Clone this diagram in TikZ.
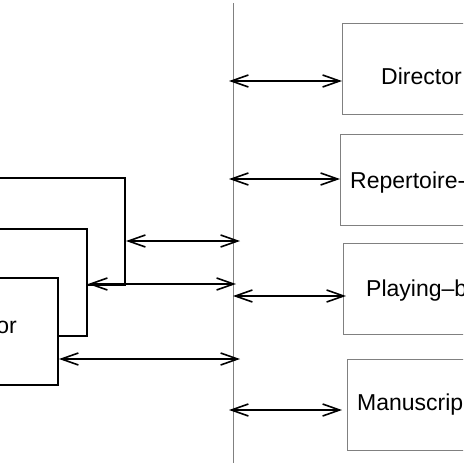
\documentclass[tikz,border=0pt]{standalone}
\usepackage{fontspec}
\setmainfont{Liberation Sans}
\usetikzlibrary{arrows.meta}

\begin{document}
\begin{tikzpicture}[x=1pt,y=-1pt,
	lbox/.style={draw,line width=1.8pt,fill=white,minimum width=220pt,minimum height=107pt,anchor=north east,inner sep=0pt},
	rbox/.style={draw=gray,line width=1.1pt,minimum width=200pt,minimum height=91pt,anchor=north west,inner sep=0pt},
	lbl/.style={font=\fontsize{23}{27}\selectfont,inner sep=0pt},
	dbl/.style={{Straight Barb[length=17pt,width=12pt]}-{Straight Barb[length=17pt,width=12pt]},line width=1.6pt}]
	\useasboundingbox (0,0) rectangle (463,463);
	\clip (0,0) rectangle (463,463);
	% bus
	\coordinate (bustop) at (233,3);
	\coordinate (busbot) at (233,463);
	\draw[gray,line width=0.9pt] (bustop) -- (busbot);
	% left stack
	\node[lbox] (backbox) at (126,177) {};
	\node[lbox] (midbox) at (88,228) {};
	\node[lbox] (frontbox) at (59,277) {};
	\node[lbl,anchor=base east] (fronttext) at (17,333) {or};
	% right boxes
	\node[rbox] (director) at (342,23) {};
	\node[rbox] (repertoire) at (340,134) {};
	\node[rbox] (playing) at (343,243) {};
	\node[rbox] (manuscript) at (347,359) {};
	\node[lbl,anchor=base west] (dirtext) at (381,84) {Director};
	\node[lbl,anchor=base west] (reptext) at (350,188) {Repertoire-};
	\node[lbl,anchor=base west] (playtext) at (366,296) {Playing–b};
	\node[lbl,anchor=base west] (mantext) at (357,410) {Manuscrip};
	% bus ends
	\coordinate (bl1) at (240,241);
	\coordinate (bl2) at (236,284);
	\coordinate (bl3) at (240,359);
	\coordinate (br1) at (229,81);
	\coordinate (br2) at (229,179);
	\coordinate (br3) at (233,296);
	\coordinate (br4) at (229,410);
	\draw[dbl] (backbox.east |- bl1) -- (bl1);
	\draw[dbl] (midbox.east |- bl2) -- (bl2);
	\draw[dbl] (frontbox.east |- bl3) -- (bl3);
	\draw[dbl] (br1) -- (director.west |- br1);
	\draw[dbl] (br2) -- (repertoire.west |- br2);
	\draw[dbl] (br3) -- ([xshift=3pt]playing.west |- br3);
	\draw[dbl] (br4) -- ([xshift=-5pt]manuscript.west |- br4);
\end{tikzpicture}
\end{document}
